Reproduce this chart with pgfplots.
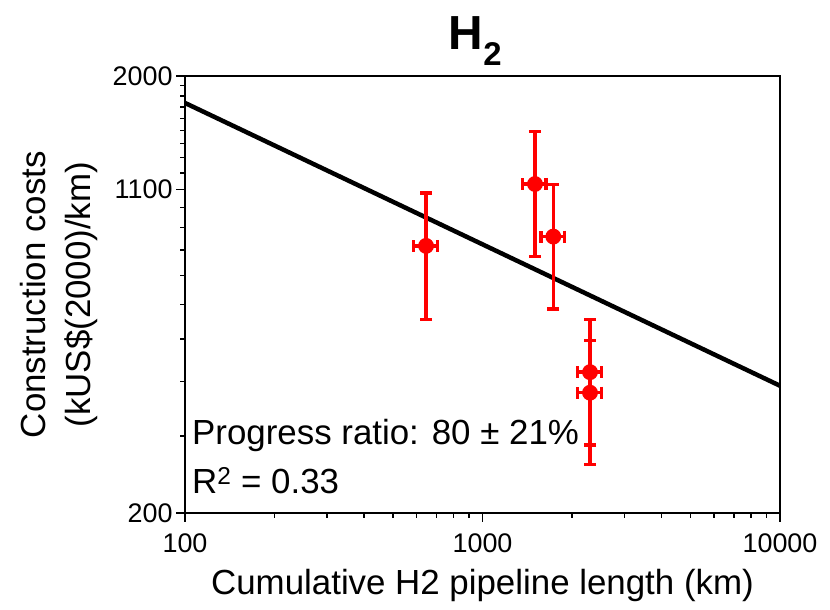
\documentclass[border=0pt]{standalone}
\usepackage{fontspec}
\setmainfont{Liberation Sans}
\usepackage{pgfplots}
\pgfplotsset{compat=1.18}
\usepackage{pgfplotstable}
\pgfplotstableread{
x y ex ey
646 817 61 263
1501 1132 136 360
1730 858 155 272
2298 420 216 134
2298 377 216 119
}\pts
\pgfplotsset{/pgfplots/every error bar/.append style={line width=3.4bp}}
\begin{document}
\begin{tikzpicture}
\useasboundingbox (0,0) rectangle (830bp,610bp);
\begin{axis}[
  at={(185bp,97bp)}, anchor=south west,
  scale only axis, width=595bp, height=437bp,
  xmode=log, ymode=log,
  xmin=100, xmax=10000, ymin=200, ymax=2000,
  axis line style={line width=1.6bp},
  xtick={100,1000,10000}, xticklabels={100,1000,10000},
  minor xtick={200,300,400,500,600,700,800,900,2000,3000,4000,5000,6000,7000,8000,9000},
  ytick={200,1100,2000}, yticklabels={200,1100,2000},
  minor ytick={300,400,500,600,700,800,900,1000,1200,1300,1400,1500,1600,1700,1800,1900},
  tick align=outside, xtick pos=bottom, ytick pos=left,
  major tick length=9bp, minor tick length=5bp,
  every tick/.style={line width=1.4bp, black},
  ticklabel style={font=\fontsize{27}{32}\selectfont},
  xticklabel style={yshift=-8bp},
  clip=false,
]
\addplot[black, line width=4.5bp] coordinates {(100,1735) (10000,391)};
\addplot[red, fill=red, only marks, mark=*, mark size=6.2bp, line width=3.4bp,
  error bars/.cd, x dir=both, y dir=both, x explicit, y explicit,
  error bar style={line width=3.4bp, red, solid},
  error mark=-,
  error mark options={rotate=90, line width=3.4bp, red, mark size=6bp}]
  table[x=x, y=y, x error=ex, y error=ey] {\pts};
\node[anchor=base west, inner sep=0pt, font=\fontsize{35}{40}\selectfont] at (rel axis cs:0.0118,0.1556) {Progress ratio: 80 ± 21\%};
\node[anchor=base west, inner sep=0pt, font=\fontsize{35}{40}\selectfont] at (rel axis cs:0.0118,0.0435) {R\textsuperscript{2} = 0.33};
\node[anchor=base, inner sep=0pt, font=\fontsize{35}{40}\selectfont] at (rel axis cs:0.5,-0.1854) {Cumulative H2 pipeline length (km)};
\node[anchor=base, inner sep=0pt, rotate=90, font=\fontsize{35}{40}\selectfont] at (rel axis cs:-0.234,0.4994) {Construction costs};
\node[anchor=base, inner sep=0pt, rotate=90, font=\fontsize{35}{40}\selectfont] at (rel axis cs:-0.158,0.4994) {(kUS\$(2000)/km)};
\node[anchor=base west, inner sep=0pt, font=\bfseries\fontsize{48}{52}\selectfont] at (rel axis cs:0.443,1.061) {H\raisebox{-16bp}{\fontsize{33}{34}\selectfont 2}};
\end{axis}
\end{tikzpicture}
\end{document}
